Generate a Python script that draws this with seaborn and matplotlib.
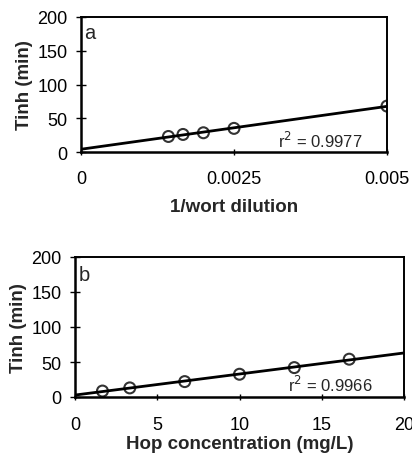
import numpy as np
import pandas as pd
import seaborn as sns
import matplotlib.pyplot as plt

# panel a : 1/wort dilution
dilution_inv = [1 / 700, 1 / 600, 1 / 500, 1 / 400, 1 / 200]
tinh_a = [23, 26, 28.5, 35, 68]

# panel b : hop concentration
hop_conc = [1.67, 3.33, 6.67, 10.0, 13.33, 16.67]
tinh_b = [8.5, 13, 22, 32.5, 42, 54]

sns.set_theme(style="ticks")
plt.rcParams["font.family"] = ["Liberation Sans", "DejaVu Sans"]

fig = plt.figure(figsize=(4.12, 4.56), dpi=100)
ax_a = fig.add_axes([81 / 412, 1 - 153 / 456, (387 - 81) / 412, (153 - 18) / 456])
ax_b = fig.add_axes([75 / 412, 1 - 398 / 456, (404 - 75) / 412, (398 - 258) / 456])

df_a = pd.DataFrame({"x": dilution_inv, "y": tinh_a})
df_b = pd.DataFrame({"x": hop_conc, "y": tinh_b})


def panel(ax, df, xmax, xticks, xticklabels, xlabel, letter, letter_y,
          r2txt, r2pos, tpad, lpad):
    ax.set_xlim(0, xmax)
    ax.set_ylim(0, 200)
    sns.regplot(x="x", y="y", data=df, ax=ax, ci=None, truncate=False,
                marker="o",
                scatter_kws={"facecolors": "none", "edgecolors": "black",
                             "s": 62, "linewidths": 1.5, "zorder": 3},
                line_kws={"color": "black", "linewidth": 2})
    ax.set_xlim(0, xmax)
    ax.set_ylim(0, 200)
    ax.set_xticks(xticks)
    ax.set_xticklabels(xticklabels)
    ax.set_yticks([0, 50, 100, 150, 200])
    ax.tick_params(axis="both", labelsize=13, width=1, colors="black",
                   direction="inout")
    ax.tick_params(axis="y", length=7, pad=6)
    ax.tick_params(axis="x", length=4, pad=tpad)
    ax.set_xlabel(xlabel, fontsize=13.5, fontweight="bold", labelpad=lpad)
    ax.set_ylabel("Tinh (min)", fontsize=13.5, fontweight="bold", labelpad=3)
    for s in ax.spines.values():
        s.set_color("black")
        s.set_linewidth(1.4)
    ax.spines["left"].set_linewidth(1.8)
    ax.spines["bottom"].set_linewidth(1.8)
    ax.text(0.01, letter_y, letter, transform=ax.transAxes, fontsize=14.5,
            va="top", ha="left")
    ax.text(r2pos[0], r2pos[1], r2txt, fontsize=12, va="center", ha="left")


panel(ax_a, df_a, 0.005, [0, 0.0025, 0.005], ["0", "0.0025", "0.005"],
      "1/wort dilution", "a", 0.955, r"r$^2$ = 0.9977", (0.00322, 18), 11, 8)
panel(ax_b, df_b, 20, [0, 5, 10, 15, 20], ["0", "5", "10", "15", "20"],
      "Hop concentration (mg/L)", "b", 0.94, r"r$^2$ = 0.9966", (12.95, 18), 12, 1)

fig.savefig("out.png", dpi=100)
